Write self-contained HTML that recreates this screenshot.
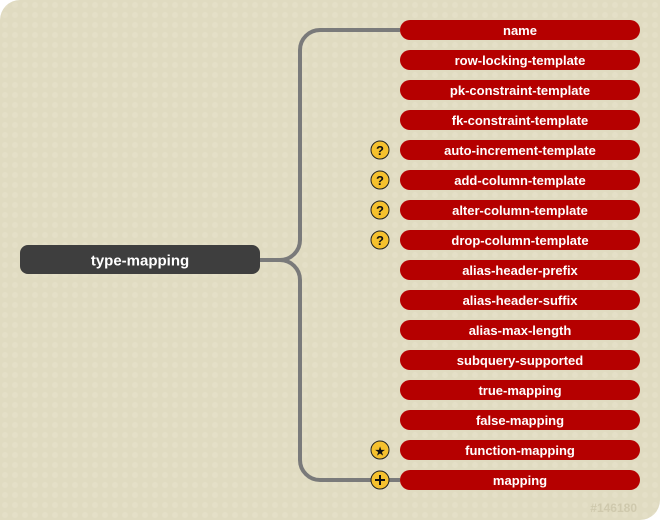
<!DOCTYPE html>
<html><head><meta charset="utf-8"><style>
html,body{margin:0;padding:0;background:#fff;}
svg{display:block;}
text{font-family:"Liberation Sans",sans-serif;font-weight:bold;}
</style></head><body>
<svg width="660" height="520" viewBox="0 0 660 520" xmlns="http://www.w3.org/2000/svg">
<defs>
<pattern id="dots" width="10" height="10" patternUnits="userSpaceOnUse">
<circle cx="5" cy="5" r="3" fill="#e6e1c9"/>
</pattern>
</defs>
<path d="M20 0 H660 V500 A20 20 0 0 1 640 520 H0 V20 A20 20 0 0 1 20 0 Z" fill="#e0dbc1"/>
<path d="M20 0 H660 V500 A20 20 0 0 1 640 520 H0 V20 A20 20 0 0 1 20 0 Z" fill="url(#dots)" opacity="0.7"/>
<g fill="none" stroke="#7a7a7a" stroke-width="4">
<path d="M260 260 H280 A20 20 0 0 0 300 240 V50 A20 20 0 0 1 320 30 H400"/>
<path d="M280 260 A20 20 0 0 1 300 280 V460 A20 20 0 0 0 320 480 H400"/>
</g>
<rect x="20" y="245" width="240" height="29" rx="8" fill="#3e3e3e"/>
<text x="140" y="265.5" fill="#fff" font-size="15" text-anchor="middle">type-mapping</text>
<g font-size="13" fill="#fff" text-anchor="middle">
<rect x="400" y="20" width="240" height="20" rx="10" fill="#b50000"/><text x="520" y="35">name</text>
<rect x="400" y="50" width="240" height="20" rx="10" fill="#b50000"/><text x="520" y="65">row-locking-template</text>
<rect x="400" y="80" width="240" height="20" rx="10" fill="#b50000"/><text x="520" y="95">pk-constraint-template</text>
<rect x="400" y="110" width="240" height="20" rx="10" fill="#b50000"/><text x="520" y="125">fk-constraint-template</text>
<rect x="400" y="140" width="240" height="20" rx="10" fill="#b50000"/><text x="520" y="155">auto-increment-template</text>
<rect x="400" y="170" width="240" height="20" rx="10" fill="#b50000"/><text x="520" y="185">add-column-template</text>
<rect x="400" y="200" width="240" height="20" rx="10" fill="#b50000"/><text x="520" y="215">alter-column-template</text>
<rect x="400" y="230" width="240" height="20" rx="10" fill="#b50000"/><text x="520" y="245">drop-column-template</text>
<rect x="400" y="260" width="240" height="20" rx="10" fill="#b50000"/><text x="520" y="275">alias-header-prefix</text>
<rect x="400" y="290" width="240" height="20" rx="10" fill="#b50000"/><text x="520" y="305">alias-header-suffix</text>
<rect x="400" y="320" width="240" height="20" rx="10" fill="#b50000"/><text x="520" y="335">alias-max-length</text>
<rect x="400" y="350" width="240" height="20" rx="10" fill="#b50000"/><text x="520" y="365">subquery-supported</text>
<rect x="400" y="380" width="240" height="20" rx="10" fill="#b50000"/><text x="520" y="395">true-mapping</text>
<rect x="400" y="410" width="240" height="20" rx="10" fill="#b50000"/><text x="520" y="425">false-mapping</text>
<rect x="400" y="440" width="240" height="20" rx="10" fill="#b50000"/><text x="520" y="455">function-mapping</text>
<rect x="400" y="470" width="240" height="20" rx="10" fill="#b50000"/><text x="520" y="485">mapping</text>
</g>
<g stroke="#222" stroke-width="1" fill="#f5c12e">
<circle cx="380" cy="150" r="9"/><circle cx="380" cy="180" r="9"/><circle cx="380" cy="210" r="9"/><circle cx="380" cy="240" r="9"/>
<circle cx="380" cy="450" r="9"/><circle cx="380" cy="480" r="9"/>
</g>
<g font-size="13" fill="#111" text-anchor="middle">
<text x="380" y="155">?</text><text x="380" y="185">?</text><text x="380" y="215">?</text><text x="380" y="245">?</text>
<text x="380" y="455" font-size="11">★</text>
</g>
<path d="M375 480 H385 M380 475 V485" stroke="#111" stroke-width="2"/>
<text x="637" y="512" font-size="12" fill="#cfc9ad" text-anchor="end">#146180</text>
</svg>
</body></html>
